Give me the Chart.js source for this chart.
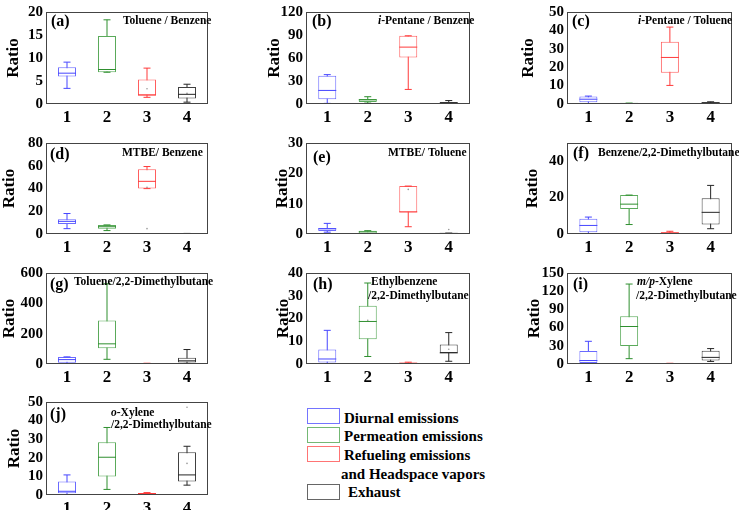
<!DOCTYPE html>
<html>
<head>
<meta charset="utf-8">
<script src="https://cdn.jsdelivr.net/npm/chart.js@4.4.0/dist/chart.umd.min.js"></script>
<style>
  body { margin: 0; width: 739px; height: 510px; background: #fff; position: relative; overflow: hidden;
         font-family: 'Liberation Serif', serif; }
  canvas { position: absolute; }
  .lg-box { position: absolute; left: 307px; width: 31px; height: 14px; border: 1.5px solid; }
  .lg-txt { position: absolute; font-weight: bold; font-size: 15px; line-height: 18px; white-space: nowrap; color: #000; }
</style>
</head>
<body>

<div class="lg-box" style="top:408px;border-color:#7474ff"></div>
<div class="lg-txt" style="left:344px;top:409px">Diurnal emissions</div>
<div class="lg-box" style="top:427px;border-color:#74b874"></div>
<div class="lg-txt" style="left:344px;top:427px">Permeation emissions</div>
<div class="lg-box" style="top:446px;border-color:#ff7474"></div>
<div class="lg-txt" style="left:344px;top:446px">Refueling emissions</div>
<div class="lg-txt" style="left:341px;top:465px">and Headspace vapors</div>
<div class="lg-box" style="top:484px;border-color:#666"></div>
<div class="lg-txt" style="left:348px;top:483px">Exhaust</div>

<script>
// categories (1 diurnal, 2 permeation, 3 refueling, 4 exhaust)
var cats = ['1', '2', '3', '4'];

// (a) Toluene / Benzene
var a_min = [3.4, 6.9, 1.45, 0.4];
var a_q1  = [6.0, 6.9, 1.8, 1.2];
var a_med = [6.7, 7.5, 2.0, 2.1];
var a_q3  = [8.0, 14.8, 5.3, 3.7];
var a_max = [9.1, 18.3, 7.8, 4.3];
var a_dot = [null, null, 3.3, 2.3];

// (b) i-Pentane / Benzene
var b_min = [0.8, 1.2, 19, 0.4];
var b_q1  = [6.2, 2.5, 60.6, 0.8];
var b_med = [17.7, 5.4, 74.2, 1.2];
var b_q3  = [36.7, 6.6, 89, 2.5];
var b_max = [38.3, 9.5, 89, 4.5];
var b_dot = [null, null, null, null];

// (c) i-Pentane / Toluene
var c_min = [0.1, 0.1, 10.1, 0.2];
var c_q1  = [1.0, 0.2, 17.0, 0.4];
var c_med = [2.6, 0.3, 25.3, 0.7];
var c_q3  = [4.1, 0.4, 33.8, 1.0];
var c_max = [4.3, 0.5, 41.8, 1.2];
var c_dot = [null, null, null, null];

// (d) MTBE / Benzene
var d_min = [4.7, 3.0, 39.9, 0.1];
var d_q1  = [8.9, 4.7, 39.9, 0.2];
var d_med = [11.1, 6.4, 46.3, 0.3];
var d_q3  = [13.0, 8.0, 57.0, 0.4];
var d_max = [18.0, 8.0, 59.3, 0.5];
var d_dot = [null, null, 41, null];
var d_out = [null, null, 4.7, null];

// (e) MTBE / Toluene
var e_min = [0.6, 0.1, 2.4, 0.05];
var e_q1  = [1.0, 0.1, 7.1, 0.1];
var e_med = [1.7, 0.7, 7.3, 0.2];
var e_q3  = [2.0, 1.1, 15.8, 0.25];
var e_max = [3.5, 1.1, 15.8, 0.3];
var e_dot = [null, null, 14.7, null];
var e_out = [null, null, null, 1.5];

// (f) Benzene / 2,2-Dimethylbutane
var f_min = [0, 5.2, 0, 2.9];
var f_q1  = [0.9, 13.8, 0.2, 5.2];
var f_med = [4.7, 16.4, 0.6, 11.9];
var f_q3  = [8.4, 21.4, 0.9, 19.7];
var f_max = [9.3, 21.4, 1.5, 26.7];
var f_dot = [null, null, null, null];

// (g) Toluene / 2,2-Dimethylbutane
var g_min = [0, 31, 0, 4];
var g_q1  = [8.3, 104, 1, 10.4];
var g_med = [29, 133, 2, 21];
var g_q3  = [45.7, 286, 4, 41.5];
var g_max = [47, 529, 5, 95.5];
var g_dot = [null, null, null, null];

// (h) Ethylbenzene / 2,2-Dimethylbutane
var h_min = [0, 3.3, 0, 1.2];
var h_q1  = [0.7, 10.9, 0.1, 4.8];
var h_med = [2.2, 18.7, 0.3, 4.9];
var h_q3  = [6.4, 25.6, 0.7, 8.6];
var h_max = [14.8, 35.6, 0.8, 13.8];
var h_dot = [null, 19.2, null, 6.5];

// (i) m/p-Xylene / 2,2-Dimethylbutane
var i_min = [0, 8.8, 0, 4.2];
var i_q1  = [1.6, 29.6, 0.2, 5.7];
var i_med = [5.7, 61.8, 0.5, 10.9];
var i_q3  = [21.3, 78.9, 0.9, 21.8];
var i_max = [37.4, 131.8, 1.2, 25.4];
var i_dot = [null, null, null, null];

// (j) o-Xylene / 2,2-Dimethylbutane
var j_min = [0, 3, 0, 5.3];
var j_q1  = [1.0, 10, 0.3, 7.2];
var j_med = [2.0, 20.3, 0.8, 10.8];
var j_q3  = [7.2, 28.3, 1.1, 23];
var j_max = [10.8, 36.3, 1.3, 26.2];
var j_dot = [null, null, null, 17];
var j_out = [null, null, null, 47.2];

// y axis ranges
var yMax  = [20, 120, 50, 80, 30, 50, 600, 40, 150, 50];
var yStep = [5, 30, 10, 20, 10, 20, 200, 10, 30, 10];

var lineCol = ['#4646ff', '#2f8f2f', '#ff3a3a', '#262626'];
var boxCol  = ['#6a6aff', '#5aaa5a', '#ff5e5e', '#404040'];

Chart.defaults.font.family = "'Liberation Serif', serif";
Chart.defaults.font.weight = 'bold';
Chart.defaults.color = '#000';

var panelText = {
  id: 'panelText',
  afterDraw: function(chart, args, o) {
    var ctx = chart.ctx, a = chart.chartArea;
    ctx.save();
    ctx.strokeStyle = '#444';
    ctx.lineWidth = 1;
    ctx.strokeRect(Math.round(a.left) - 0.5, Math.round(a.top) + 0.5,
                   Math.round(a.right - a.left) + 1, Math.round(a.bottom - a.top) - 1);
    ctx.fillStyle = '#000';
    ctx.textBaseline = 'middle';
    ctx.textAlign = 'left';
    ctx.font = 'bold 16px "Liberation Serif"';
    ctx.fillText(o.tag, a.left + o.tagX, a.top + o.tagY);
    o.lines.forEach(function(ln) {
      var x = a.left + ln.x;
      ln.parts.forEach(function(p) {
        ctx.font = (p[1] ? 'italic ' : '') + 'bold 11.5px "Liberation Serif"';
        ctx.fillText(p[0], x, a.top + ln.y);
        x += ctx.measureText(p[0]).width;
      });
    });
    ctx.restore();
  }
};

function makePanel(k, s, box, fr) {
  var yw = fr.rx + 14;
  var w = yw + (fr.r - fr.l) + 4, h = 8 + (fr.b - fr.t) + 22;
  var cv = document.createElement('canvas');
  cv.width = w; cv.height = h;
  cv.style.left = (fr.l - yw) + 'px';
  cv.style.top = (fr.t - 8) + 'px';
  document.body.appendChild(cv);

  var caps = [];
  for (var n = 0; n < cats.length; n++) {
    caps.push({x: cats[n], y: box.max[n]});
    caps.push({x: cats[n], y: box.min[n]});
  }
  var datasets = [
    {type: 'line', data: box.med, showLine: false, pointStyle: 'line', pointRadius: 9,
     pointBorderWidth: 1, pointBorderColor: lineCol, order: 0},
    {type: 'line', data: caps, showLine: false, pointStyle: 'line', pointRadius: 3.5,
     pointBorderWidth: 1, pointBorderColor: lineCol.flatMap(function(c) { return [c, c]; }), order: 1},
    {type: 'line', data: box.dot, showLine: false, pointRadius: 0.8, pointBorderWidth: 0,
     pointBackgroundColor: '#999', order: 0},
    {type: 'bar', data: box.q1.map(function(v, n) { return [v, box.q3[n]]; }),
     backgroundColor: '#fff', borderColor: boxCol, borderWidth: 1, borderSkipped: false,
     maxBarThickness: 18, grouped: false, order: 2},
    {type: 'bar', data: box.min.map(function(v, n) { return [v, box.max[n]]; }),
     backgroundColor: lineCol, borderWidth: 0, maxBarThickness: 1, grouped: false, order: 3}
  ];
  if (box.out) {
    datasets.push({type: 'line', data: box.out, showLine: false, pointRadius: 0.8, pointBorderWidth: 0,
                   pointBackgroundColor: '#999', order: 0});
  }

  new Chart(cv, {
    type: 'bar',
    data: {labels: cats, datasets: datasets},
    options: {
      responsive: false,
      animation: false,
      devicePixelRatio: 1,
      layout: {padding: {top: 8, right: 4, left: 0, bottom: 0}},
      plugins: {
        legend: {display: false},
        tooltip: {enabled: false},
        panelText: box.text
      },
      scales: {
        x: {
          grid: {display: false, drawTicks: false},
          border: {display: false},
          ticks: {font: {size: 17}, padding: 3},
          afterFit: function(sc) { sc.height = 22; }
        },
        y: {
          min: 0, max: yMax[k],
          grid: {display: false, drawTicks: false},
          border: {display: false},
          ticks: {stepSize: yStep[k], autoSkip: false, font: {size: 15}, padding: 4,
                  callback: function(v) { return v % yStep[k] ? '' : v; }},
          title: {display: true, text: 'Ratio', font: {size: 17}, padding: {top: 4, bottom: 0}},
          afterFit: function(sc) { sc.width = yw; }
        }
      }
    },
    plugins: [panelText]
  });
}

function T(x, y, parts) { return {x: x, y: y, parts: parts}; }

makePanel(0, 'a', {min: a_min, q1: a_q1, med: a_med, q3: a_q3, max: a_max, dot: a_dot,
  text: {tag: '(a)', tagX: 4, tagY: 10, lines: [T(76, 9, [['Toluene / Benzene']])]}},
  {l: 47, r: 213, t: 7, b: 104, rx: 34});
makePanel(1, 'b', {min: b_min, q1: b_q1, med: b_med, q3: b_q3, max: b_max, dot: b_dot,
  text: {tag: '(b)', tagX: 5, tagY: 10, lines: [T(71, 9, [['i', true], ['-Pentane / Benzene']])]}},
  {l: 307, r: 475, t: 7, b: 104, rx: 33});
makePanel(2, 'c', {min: c_min, q1: c_q1, med: c_med, q3: c_q3, max: c_max, dot: c_dot,
  text: {tag: '(c)', tagX: 4, tagY: 10, lines: [T(70, 9, [['i', true], ['-Pentane / Toluene']])]}},
  {l: 568, r: 737, t: 7, b: 104, rx: 40});
makePanel(3, 'd', {min: d_min, q1: d_q1, med: d_med, q3: d_q3, max: d_max, dot: d_dot, out: d_out,
  text: {tag: '(d)', tagX: 3, tagY: 12, lines: [T(75, 10, [['MTBE/ Benzene']])]}},
  {l: 47, r: 213, t: 138, b: 234, rx: 38});
makePanel(4, 'e', {min: e_min, q1: e_q1, med: e_med, q3: e_q3, max: e_max, dot: e_dot, out: e_out,
  text: {tag: '(e)', tagX: 6, tagY: 15, lines: [T(81, 10, [['MTBE/ Toluene']])]}},
  {l: 307, r: 475, t: 138, b: 234, rx: 25});
makePanel(5, 'f', {min: f_min, q1: f_q1, med: f_med, q3: f_q3, max: f_max, dot: f_dot,
  text: {tag: '(f)', tagX: 5, tagY: 11, lines: [T(30, 10, [['Benzene/2,2-Dimethylbutane']])]}},
  {l: 568, r: 737, t: 138, b: 234, rx: 36});
makePanel(6, 'g', {min: g_min, q1: g_q1, med: g_med, q3: g_q3, max: g_max, dot: g_dot,
  text: {tag: '(g)', tagX: 3, tagY: 12, lines: [T(27, 9, [['Toluene/2,2-Dimethylbutane']])]}},
  {l: 47, r: 213, t: 268, b: 364, rx: 38});
makePanel(7, 'h', {min: h_min, q1: h_q1, med: h_med, q3: h_q3, max: h_max, dot: h_dot,
  text: {tag: '(h)', tagX: 6, tagY: 12, lines: [T(64, 9, [['Ethylbenzene']]), T(61, 23, [['/2,2-Dimethylbutane']])]}},
  {l: 307, r: 475, t: 268, b: 364, rx: 24});
makePanel(8, 'i', {min: i_min, q1: i_q1, med: i_med, q3: i_q3, max: i_max, dot: i_dot,
  text: {tag: '(i)', tagX: 5, tagY: 12, lines: [T(69, 9, [['m/p', true], ['-Xylene']]), T(68, 23, [['/2,2-Dimethylbutane']])]}},
  {l: 568, r: 737, t: 268, b: 364, rx: 34});
makePanel(9, 'j', {min: j_min, q1: j_q1, med: j_med, q3: j_q3, max: j_max, dot: j_dot, out: j_out,
  text: {tag: '(j)', tagX: 3, tagY: 13, lines: [T(64, 11, [['o', true], ['-Xylene']]), T(64, 23, [['/2,2-Dimethylbutane']])]}},
  {l: 47, r: 213, t: 397, b: 495, rx: 33});
</script>
</body>
</html>
